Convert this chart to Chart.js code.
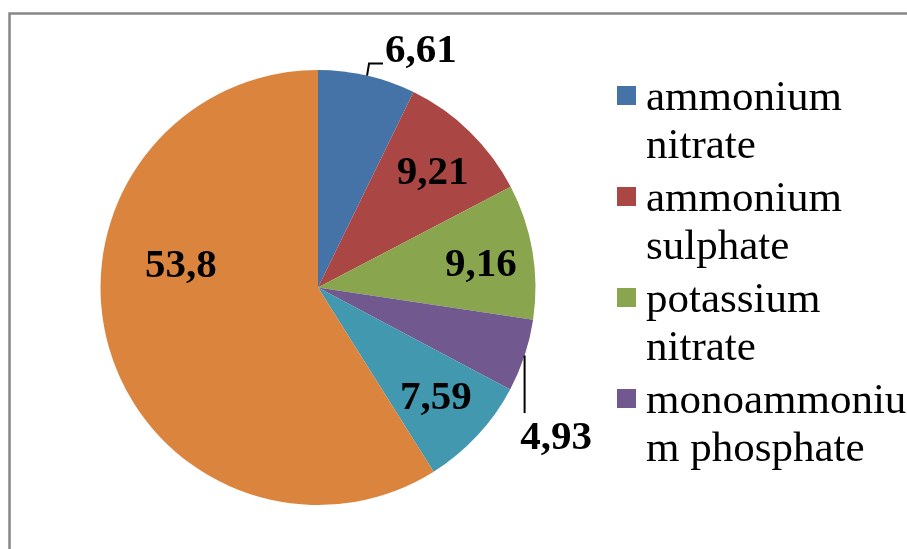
<!DOCTYPE html>
<html>
<head>
<meta charset="utf-8">
<script src="https://cdn.jsdelivr.net/npm/chart.js@4.4.1/dist/chart.umd.min.js"></script>
<style>
    body { margin: 0; background: #fff; }
    #wrap { width: 907px; height: 549px; position: relative; }
</style>
</head>
<body>
<div id="wrap"><canvas id="chart"></canvas></div>
<script>
// datos del gráfico
const labels = ["ammonium nitrate", "ammonium sulphate", "potassium nitrate",
    "monoammonium phosphate", "diammonium phosphate", "other"];
const values = [6.61, 9.21, 9.16, 4.93, 7.59, 53.8];
const colors = ["#4572A7", "#AA4643", "#89A54E", "#71588F", "#4198AF", "#DB843D"];

// solo se ven 4 entradas en la leyenda
const legendShown = 4;

// ajuste de posición de etiquetas: [desplazamiento de ángulo (grados), fracción del radio]
const labelPlace = [[10.5, 1.186], [0.9, 0.743], [1.7, 0.756], [14.1, 1.295], [0.2, 0.743], [25, 0.638]];

function fmt(v) {
    return v.toString().replace(".", ",");
}

function wrapText(ctx, text, maxW) {
    const lines = [];
    let line = "";
    for (const word of text.split(" ")) {
        const test = line ? line + " " + word : word;
        if (ctx.measureText(test).width <= maxW) { line = test; continue; }
        if (line) { lines.push(line); line = ""; }
        let w = word;
        while (ctx.measureText(w).width > maxW) {
            let i = w.length;
            while (i > 1 && ctx.measureText(w.slice(0, i)).width > maxW) i--;
            lines.push(w.slice(0, i));
            w = w.slice(i);
        }
        line = w;
    }
    if (line) lines.push(line);
    return lines;
}

// marco gris
const framePlugin = {
    id: "frame",
    beforeDraw(chart) {
        const ctx = chart.ctx;
        ctx.save();
        ctx.strokeStyle = "#878787";
        ctx.lineWidth = 2.5;
        ctx.strokeRect(9.5, 13.5, chart.width + 20, chart.height + 20);
        ctx.restore();
    }
};

// etiquetas de valores con líneas guía
const sliceLabels = {
    id: "sliceLabels",
    afterDatasetsDraw(chart) {
        const ctx = chart.ctx;
        const arcs = chart.getDatasetMeta(0).data;
        ctx.save();
        ctx.font = "bold 41px 'Liberation Serif', 'Times New Roman', serif";
        ctx.fillStyle = "#000";
        ctx.textAlign = "center";
        ctx.textBaseline = "middle";
        arcs.forEach((arc, i) => {
            const p = arc.getProps(["x", "y", "startAngle", "endAngle", "outerRadius"], true);
            const mid = (p.startAngle + p.endAngle) / 2;
            const a = mid + labelPlace[i][0] * Math.PI / 180;
            const r = p.outerRadius * labelPlace[i][1];
            const lx = p.x + Math.cos(a) * r;
            const ly = p.y + Math.sin(a) * r;
            if (labelPlace[i][1] > 1) {
                const ex = p.x + Math.cos(mid) * p.outerRadius;
                const ey = p.y + Math.sin(mid) * p.outerRadius;
                ctx.strokeStyle = "#000";
                ctx.lineWidth = 2;
                ctx.beginPath();
                if (ly < p.y) {
                    ctx.moveTo(ex, ey);
                    ctx.lineTo(ex + 2, ey - 12);
                    ctx.lineTo(lx - 38, ey - 12);
                } else {
                    ctx.moveTo(ex, ey);
                    ctx.lineTo(ex, ly - 25);
                }
                ctx.stroke();
            }
            ctx.fillText(fmt(values[i]), lx, ly);
        });
        ctx.restore();
    }
};

// leyenda dibujada a mano (texto en varias líneas)
const legendPlugin = {
    id: "sideLegend",
    afterDraw(chart) {
        const ctx = chart.ctx;
        ctx.save();
        ctx.font = "43px 'Liberation Serif', 'Times New Roman', serif";
        ctx.textBaseline = "alphabetic";
        ctx.textAlign = "left";
        let y = 110;
        for (let i = 0; i < legendShown; i++) {
            ctx.fillStyle = colors[i];
            ctx.fillRect(617, y - 24, 19, 19);
            ctx.fillStyle = "#000";
            const lines = wrapText(ctx, labels[i], 264);
            lines.forEach((ln, k) => ctx.fillText(ln, 646, y + k * 48));
            y += 101;
        }
        ctx.restore();
    }
};

new Chart(document.getElementById("chart"), {
    type: "pie",
    data: {
        labels: labels,
        datasets: [{
            data: values,
            backgroundColor: colors,
            borderWidth: 0
        }]
    },
    options: {
        responsive: true,
        maintainAspectRatio: false,
        animation: false,
        layout: {
            padding: { left: 100, right: 371, top: 70, bottom: 44 }
        },
        plugins: {
            legend: { display: false },
            tooltip: { enabled: false }
        }
    },
    plugins: [framePlugin, sliceLabels, legendPlugin]
});
</script>
</body>
</html>
